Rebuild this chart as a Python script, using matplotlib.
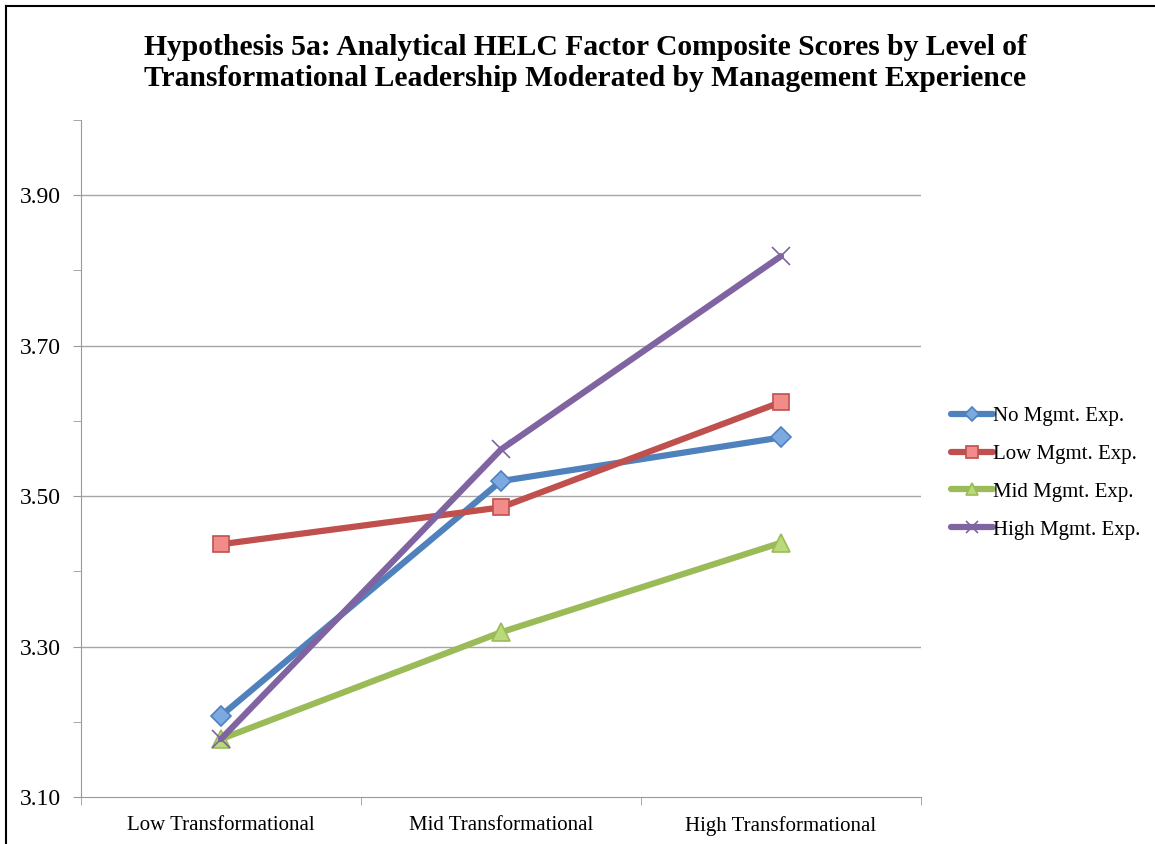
import matplotlib
matplotlib.use("Agg")
import matplotlib.pyplot as plt
from matplotlib.lines import Line2D

categories = ["Low Transformational", "Mid Transformational", "High Transformational"]
series_names = ["No Mgmt. Exp.", "Low Mgmt. Exp.", "Mid Mgmt. Exp.", "High Mgmt. Exp."]
no_mgmt = [3.208, 3.520, 3.578]
low_mgmt = [3.436, 3.485, 3.625]
mid_mgmt = [3.177, 3.319, 3.438]
high_mgmt = [3.177, 3.562, 3.819]
y_ticks = [3.10, 3.30, 3.50, 3.70, 3.90]
y_tick_labels = ["3.10", "3.30", "3.50", "3.70", "3.90"]

plt.rcParams['font.family'] = ['Liberation Serif', 'DejaVu Serif']

fig = plt.figure(figsize=(11.55, 8.44), dpi=100)
ax = fig.add_axes([81/1155, 1-797/844, 840/1155, 677/844])

styles = [
    dict(color="#4F81BD", marker="D", mfc="#7DA9E3", mec="#4F81BD", ms=10),
    dict(color="#C0504D", marker="s", mfc="#F28C8A", mec="#C0504D", ms=12),
    dict(color="#9BBB59", marker="^", mfc="#B9D97A", mec="#9BBB59", ms=13),
    dict(color="#8064A2", marker="x", mfc="#8064A2", mec="#8064A2", ms=13),
]
data = [no_mgmt, low_mgmt, mid_mgmt, high_mgmt]
x = list(range(len(categories)))
for vals, name, st in zip(data, series_names, styles):
    ax.plot(x, vals, label=name, lw=4.5, color=st["color"], marker=st["marker"],
            markerfacecolor=st["mfc"], markeredgecolor=st["mec"], markersize=st["ms"],
            markeredgewidth=1.2, solid_capstyle="round", zorder=3)

ax.set_xlim(-0.5, 2.5)
ax.set_ylim(3.10, 4.00)
ax.set_yticks(y_ticks)
ax.set_yticklabels(y_tick_labels, fontsize=17)
ax.set_yticks([3.20, 3.40, 3.60, 3.80, 4.00], minor=True)
ax.set_xticks(x)
ax.set_xticklabels(categories, fontsize=15)
ax.set_xticks([-0.5, 0.5, 1.5, 2.5], minor=True)
ax.tick_params(axis='x', which='major', length=0, pad=14)
ax.tick_params(axis='x', which='minor', length=6, color="#999999", direction='out')
ax.tick_params(axis='y', which='both', length=6, color="#999999", direction='out', pad=8.5)

for yv in y_ticks[1:]:
    ax.axhline(yv, color="#A6A6A6", lw=1.0, zorder=1)

for s in ["top", "right"]:
    ax.spines[s].set_visible(False)
ax.spines["left"].set_color("#999999")
ax.spines["bottom"].set_color("#999999")

ax.legend(loc="upper left", bbox_to_anchor=(943/1155, 1-398/844), bbox_transform=fig.transFigure,
          frameon=False, fontsize=15, handlelength=2.0, handletextpad=0.0,
          labelspacing=0.88, borderaxespad=0, markerscale=0.7)

fig.text(585/1155, 1-63/844,
         "Hypothesis 5a: Analytical HELC Factor Composite Scores by Level of\nTransformational Leadership Moderated by Management Experience",
         ha="center", va="center", fontsize=21.3, fontweight="bold", linespacing=1.2)

# chart frame (left and top visible)
fig.add_artist(Line2D([6/1155, 6/1155], [0, 1-6/844], transform=fig.transFigure, color="black", lw=1.5))
fig.add_artist(Line2D([6/1155, 1], [1-6/844, 1-6/844], transform=fig.transFigure, color="black", lw=1.5))

fig.savefig("out.png", dpi=100)
